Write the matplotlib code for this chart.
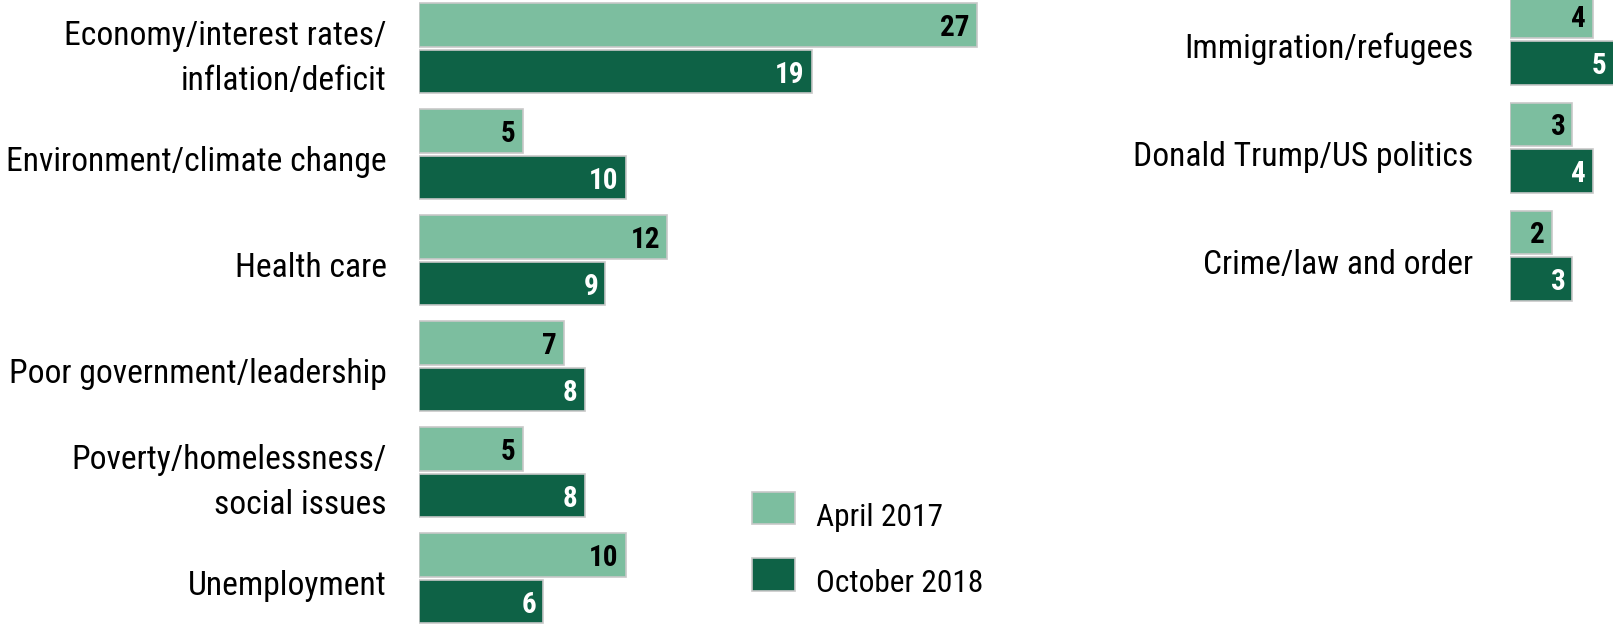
import numpy as np
import matplotlib
matplotlib.use("Agg")
import matplotlib.pyplot as plt
from matplotlib import font_manager
from matplotlib.patches import Rectangle
import matplotlib.transforms as mtrans

# ---------------- data ----------------
left_categories = ["Economy/interest rates/\ninflation/deficit",
                   "Environment/climate change",
                   "Health care",
                   "Poor government/leadership",
                   "Poverty/homelessness/\nsocial issues",
                   "Unemployment"]
left_april2017 = [27, 5, 12, 7, 5, 10]
left_october2018 = [19, 10, 9, 8, 8, 6]

right_categories = ["Immigration/refugees",
                    "Donald Trump/US politics",
                    "Crime/law and order"]
right_april2017 = [4, 3, 2]
right_october2018 = [5, 4, 3]

series_labels = ["April 2017", "October 2018"]

# ---------------- style ----------------
LIGHT = "#7cbe9f"
DARK = "#0e6246"
EDGE = "#c8c8c8"
names = {f.name for f in font_manager.fontManager.ttflist}
FAMILY = "DejaVu Sans"
for cand in ["Liberation Sans Narrow", "Arial Narrow", "Nimbus Sans Narrow",
             "Roboto Condensed", "Archivo Narrow", "PT Sans Narrow"]:
    if cand in names:
        FAMILY = cand
        break
plt.rcParams["font.family"] = [FAMILY, "DejaVu Sans"]

W, H, DPI = 1613, 624, 100
fig = plt.figure(figsize=(W / DPI, H / DPI), dpi=DPI)
PPU = 20.65  # pixels per value unit

renderer = fig.canvas.get_renderer()


def fit_size(text, base, target_px):
    probe = fig.text(0, 0, text, fontsize=base)
    w = probe.get_window_extent(renderer).width
    probe.remove()
    return base * min(1.0, target_px / w)


CAT_FS = fit_size("Environment/climate change", 25.8, 381.0)
LEG_FS = fit_size("October 2018", 22.8, 167.0)
VAL_FS = 21


def px_axes(x0, x1, y0, y1):
    return fig.add_axes([x0 / W, 1 - y1 / H, (x1 - x0) / W, (y1 - y0) / H])


def shifted(ax, dx, dy):
    # dx, dy in pixels; dy positive = downward
    return mtrans.offset_copy(ax.transData, fig=fig, x=dx, y=-dy, units="dots")


def panel(x0, x1, first_center, pitch, cats, a, b, label_dx, base1, base2_avg):
    ax = px_axes(x0, x1, 0, H)
    ax.set_xlim(0, (x1 - x0) / PPU)
    ax.set_ylim((H - first_center) / pitch, -first_center / pitch)
    ax.axis("off")
    bh = 43.4 / pitch
    off = 23.35 / pitch
    idx = np.arange(len(cats))
    ax.barh(idx - off, a, height=bh, color=LIGHT, edgecolor=EDGE, linewidth=1.2)
    ax.barh(idx + off, b, height=bh, color=DARK, edgecolor=EDGE, linewidth=1.2)
    for i, v in enumerate(a):
        ax.text(v, i - off, str(v), transform=shifted(ax, -7, 11),
                ha="right", va="baseline", fontsize=VAL_FS, fontweight="bold",
                color="black")
    for i, v in enumerate(b):
        ax.text(v, i + off, str(v), transform=shifted(ax, -7, 11),
                ha="right", va="baseline", fontsize=VAL_FS, fontweight="bold",
                color="white")
    for i, c in enumerate(cats):
        lines = c.split("\n")
        n = len(lines)
        spacing = 44.7
        avg = base1 if n == 1 else base2_avg
        for k, line in enumerate(lines):
            dy = avg + (k - (n - 1) / 2) * spacing
            ax.text(0, i, line, transform=shifted(ax, label_dx, dy),
                    ha="right", va="baseline", fontsize=CAT_FS, color="black")
    return ax


panel(419.3, 1040, 48.3, 106.0, left_categories, left_april2017,
      left_october2018, -32.6, 17, 19.5)
panel(1510.3, 1613, 39.6, 108.0, right_categories, right_april2017,
      right_october2018, -36.8, 18.5, 18.5)

# ---------------- legend ----------------
leg_colors = [LIGHT, DARK]
leg_tops = [491.7, 558.3]
leg_base = [526, 591.7]
for col, top, base, lab in zip(leg_colors, leg_tops, leg_base, series_labels):
    fig.patches.append(Rectangle((752.3 / W, 1 - (top + 32.4) / H), 42.7 / W, 32.4 / H,
                                 transform=fig.transFigure, facecolor=col,
                                 edgecolor=EDGE, linewidth=1.2))
    fig.text(816 / W, 1 - base / H, lab, ha="left", va="baseline",
             fontsize=LEG_FS, color="black")

fig.savefig("out.png", dpi=DPI)
